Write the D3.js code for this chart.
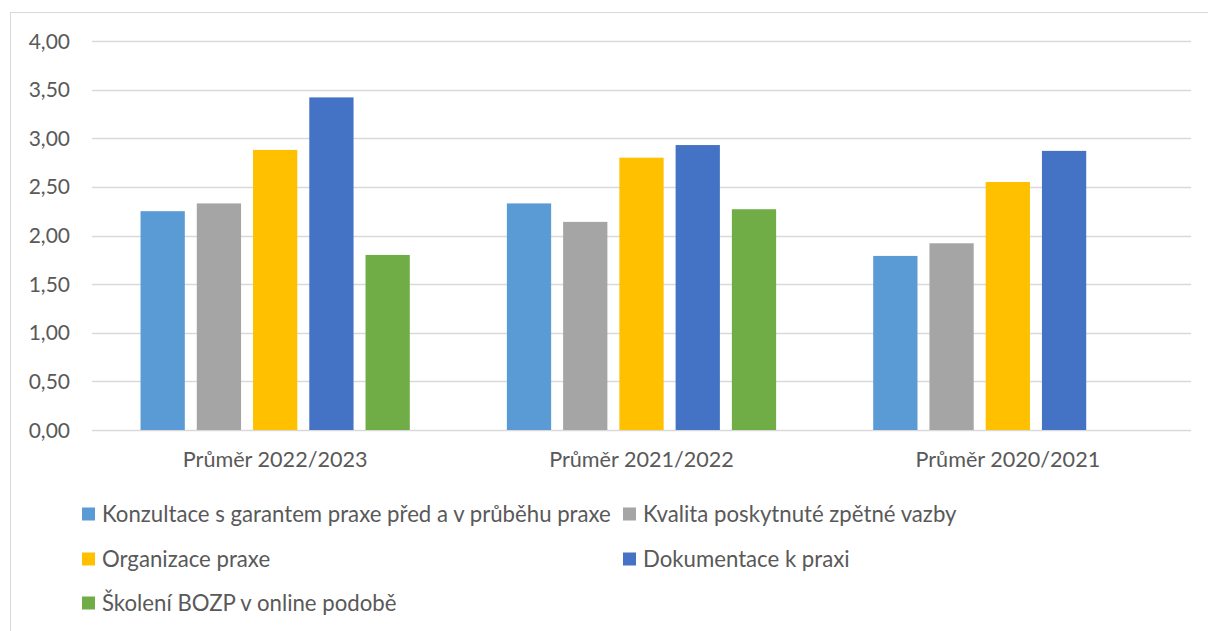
<!DOCTYPE html>
<html>
<head>
<meta charset="utf-8">
<script src="https://cdn.jsdelivr.net/npm/d3@7"></script>
<style>
  html, body { margin: 0; padding: 0; background: #fff; }
  svg text { font-family: Lato, "Open Sans", sans-serif; fill: #595959; }
</style>
</head>
<body>
<div id="chart"></div>
<script>
var width = 1208; // svg šířka
var height = 631; // svg výška

// data
var categories = ["Průměr 2022/2023", "Průměr 2021/2022", "Průměr 2020/2021"];
var seriesNames = [
  "Konzultace s garantem praxe před a v průběhu praxe",
  "Kvalita poskytnuté zpětné vazby",
  "Organizace praxe",
  "Dokumentace k praxi",
  "Školení BOZP v online podobě"
];
var konzultace = [2.25, 2.33, 1.79];
var kvalita = [2.33, 2.14, 1.92];
var organizace = [2.88, 2.80, 2.55];
var dokumentace = [3.42, 2.93, 2.87];
var skoleni = [1.80, 2.27, null];
var yTicks = [0, 0.5, 1, 1.5, 2, 2.5, 3, 3.5, 4];

var colors = ["#5B9BD5", "#A5A5A5", "#FFC000", "#4472C4", "#70AD47"];
var seriesValues = [konzultace, kvalita, organizace, dokumentace, skoleni];

var margin = { left: 92, right: 17, top: 41, bottom: 201 };

var svg = d3.select("#chart").append("svg")
  .attr("width", width)
  .attr("height", height);

// rámeček grafu
svg.append("rect")
  .attr("x", 10.5).attr("y", 12.5)
  .attr("width", width + 20).attr("height", height + 20)
  .attr("fill", "none")
  .attr("stroke", "#D9D9D9");

var x0 = d3.scaleBand()
  .domain(categories)
  .range([margin.left, width - margin.right])
  .padding(0);

var x1 = d3.scaleBand()
  .domain(d3.range(seriesNames.length))
  .range([0, x0.bandwidth()])
  .paddingInner(0.213)
  .paddingOuter(0.863);

var y = d3.scaleLinear()
  .domain([0, 4])
  .range([height - margin.bottom, margin.top]);

// mřížka
svg.append("g")
  .selectAll("line")
  .data(yTicks)
  .enter()
  .append("line")
  .attr("x1", margin.left)
  .attr("x2", width - margin.right)
  .attr("y1", d => Math.round(y(d)) + 0.5)
  .attr("y2", d => Math.round(y(d)) + 0.5)
  .attr("stroke", "#D9D9D9")
  .attr("stroke-width", 1.5);

// popisky osy y
var fmt = d => d.toFixed(2).replace(".", ",");
svg.append("g")
  .selectAll("text")
  .data(yTicks)
  .enter()
  .append("text")
  .attr("x", 70)
  .attr("y", d => y(d))
  .attr("dy", "0.36em")
  .attr("text-anchor", "end")
  .attr("font-size", 21)
  .text(fmt);

// sloupce
var groups = svg.append("g")
  .selectAll("g")
  .data(categories)
  .enter()
  .append("g")
  .attr("transform", d => `translate(${x0(d)},0)`);

groups.selectAll("rect")
  .data((d, ci) => seriesValues.map((s, si) => ({ si: si, v: s[ci] })).filter(e => e.v != null))
  .enter()
  .append("rect")
  .attr("x", d => x1(d.si))
  .attr("width", x1.bandwidth())
  .attr("y", d => y(d.v))
  .attr("height", d => y(0) - y(d.v))
  .attr("fill", d => colors[d.si]);

// popisky kategorií
svg.append("g")
  .selectAll("text")
  .data(categories)
  .enter()
  .append("text")
  .attr("x", d => x0(d) + x0.bandwidth() / 2)
  .attr("y", 467)
  .attr("text-anchor", "middle")
  .attr("font-size", 21.6)
  .text(d => d);

// legenda
var legendPos = [[82, 514], [623, 514], [82, 559], [623, 559], [82, 603]];
var lg = svg.append("g")
  .selectAll("g")
  .data(seriesNames)
  .enter()
  .append("g")
  .attr("transform", (d, i) => `translate(${legendPos[i][0]},${legendPos[i][1]})`);

lg.append("rect")
  .attr("x", 0).attr("y", -6.5)
  .attr("width", 13).attr("height", 13)
  .attr("fill", (d, i) => colors[i]);

lg.append("text")
  .attr("x", 20)
  .attr("dy", "0.36em")
  .attr("font-size", 22.2)
  .text(d => d);
</script>
</body>
</html>
